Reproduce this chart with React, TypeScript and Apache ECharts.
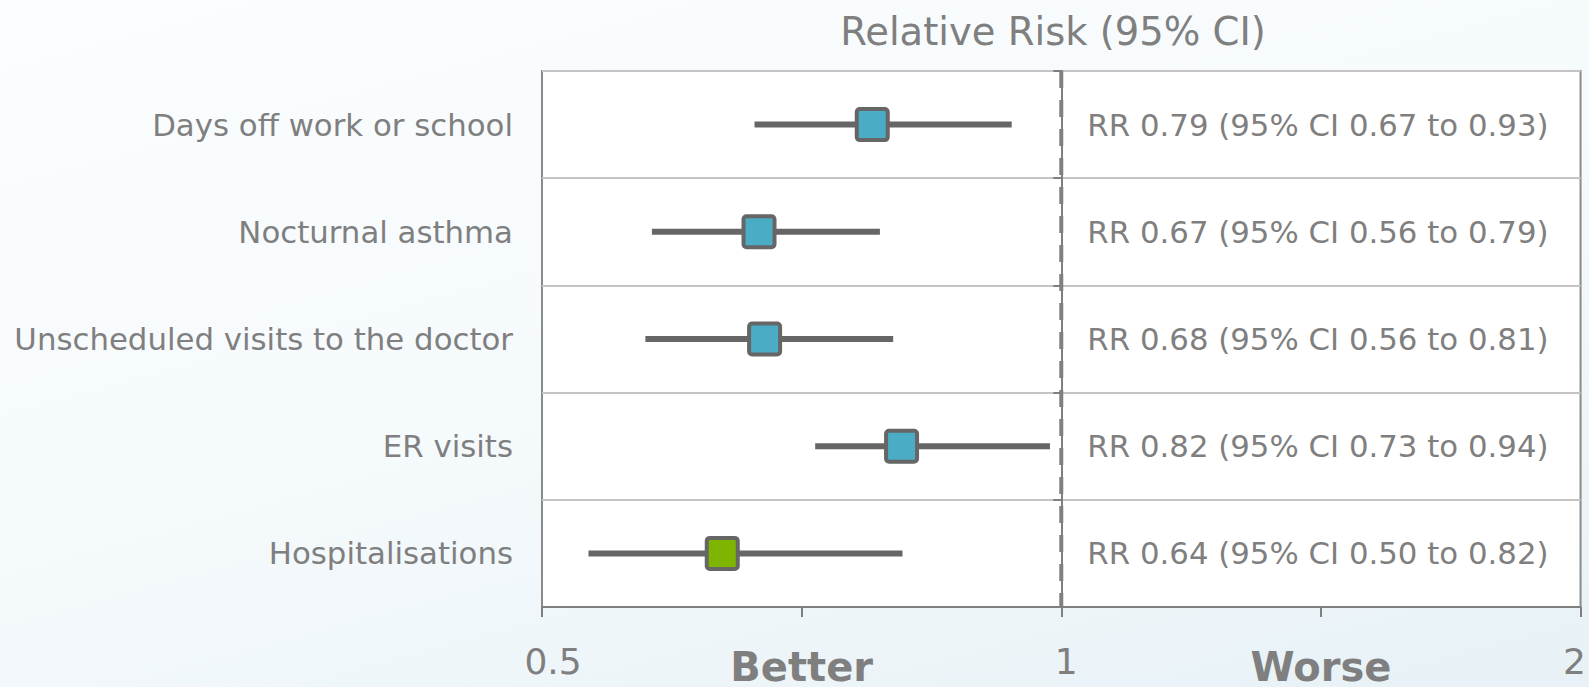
import React, { useEffect, useRef } from "react";
import * as echarts from "echarts";

// ---- data ----
const categories = [
  "Days off work or school",
  "Nocturnal asthma",
  "Unscheduled visits to the doctor",
  "ER visits",
  "Hospitalisations",
];
const riskLow = [0.664, 0.579, 0.574, 0.72, 0.532];
const riskPoint = [0.777, 0.668, 0.673, 0.808, 0.636];
const riskHigh = [0.936, 0.785, 0.799, 0.985, 0.809];
const resultLabels = [
  "RR 0.79 (95% CI 0.67 to 0.93)",
  "RR 0.67 (95% CI 0.56 to 0.79)",
  "RR 0.68 (95% CI 0.56 to 0.81)",
  "RR 0.82 (95% CI 0.73 to 0.94)",
  "RR 0.64 (95% CI 0.50 to 0.82)",
];
const highlighted = [false, false, false, false, true];
const tickLabels = ["0.5", "Better", "1", "Worse", "2"];
const axisMin = 0.5;
const axisMax = 2;
const noEffectValue = 1;
const titleText = "Relative Risk (95% CI)";

// ---- styles ----
const FONT = "DejaVu Sans";
const GREY = "#7f7f7f";
const LINE_GREY = "#666666";
const BLUE = "#4bacc6";
const GREEN = "#7db500";

export default function App() {
  const ref = useRef<HTMLDivElement>(null);

  useEffect(() => {
    document.body.style.margin = "0";
    if (!ref.current) return;
    const chart = echarts.init(ref.current, undefined, { renderer: "svg" });

    const logMin = Math.log2(axisMin);
    const logMax = Math.log2(axisMax);
    const step = (logMax - logMin) / (tickLabels.length - 1);

    const option: any = {
      animation: false,
      backgroundColor: "transparent",
      textStyle: { fontFamily: FONT },
      title: {
        text: titleText,
        left: 1053,
        top: 12,
        padding: 0,
        textAlign: "center",
        textStyle: {
          fontFamily: FONT,
          fontSize: 38.5,
          fontWeight: "normal",
          color: GREY,
        },
      },
      grid: {
        left: 542,
        top: 71,
        width: 1040,
        height: 542,
        show: true,
        backgroundColor: "#ffffff",
        borderColor: "#8a8a8a",
        borderWidth: 2,
      },
      xAxis: [
        {
          type: "log",
          logBase: 2,
          min: axisMin,
          max: axisMax,
          position: "bottom",
          axisLine: { show: true, lineStyle: { color: GREY, width: 2 } },
          axisTick: { show: false },
          axisLabel: { show: false },
          splitLine: { show: false },
        },
        {
          type: "value",
          min: logMin,
          max: logMax,
          interval: step,
          position: "bottom",
          axisLine: { show: false },
          axisTick: {
            show: true,
            length: 10,
            lineStyle: { color: GREY, width: 2 },
          },
          splitLine: { show: false },
          axisLabel: {
            show: true,
            margin: 36,
            showMinLabel: true,
            showMaxLabel: true,
            hideOverlap: false,
            formatter: (v: number) => {
              const i = Math.round((v - logMin) / step);
              const txt = tickLabels[i] ?? "";
              const key = i % 2 === 1 ? "b" : "t" + i;
              return "{" + key + "|" + txt + "}";
            },
            rich: {
              t0: { fontFamily: FONT, fontSize: 36, color: GREY, padding: [0, 0, 0, 22] },
              t2: { fontFamily: FONT, fontSize: 36, color: GREY, padding: [0, 0, 0, 10] },
              t4: { fontFamily: FONT, fontSize: 36, color: GREY, padding: [0, 12, 0, 0] },
              b: {
                fontFamily: FONT,
                fontSize: 40,
                fontWeight: "bold",
                color: GREY,
                padding: [4, 0, 0, 0],
              },
            },
          },
        },
      ],
      yAxis: [
        {
          type: "category",
          data: categories,
          inverse: true,
          axisLine: { show: true, lineStyle: { color: GREY, width: 2 } },
          axisTick: { show: true, length: 8, lineStyle: { color: GREY, width: 2 } },
          axisLabel: { fontFamily: FONT, fontSize: 30.8, color: GREY, margin: 29 },
          splitLine: {
            show: true,
            lineStyle: { color: "#c4c4c4", width: 2 },
          },
        },
        {
          type: "category",
          data: resultLabels,
          inverse: true,
          position: "right",
          axisLine: { show: false },
          axisTick: { show: false },
          splitLine: { show: false },
          axisLabel: {
            inside: true,
            margin: 32,
            fontFamily: FONT,
            fontSize: 30.8,
            color: GREY,
          },
        },
      ],
      series: [
        {
          type: "custom",
          xAxisIndex: 0,
          yAxisIndex: 0,
          encode: { x: 0 },
          data: [[noEffectValue]],
          z: 1,
          renderItem: (params: any, api: any) => {
            const x = api.coord([api.value(0), 0])[0];
            const cs = params.coordSys;
            return {
              type: "line",
              shape: { x1: x, y1: cs.y, x2: x, y2: cs.y + cs.height },
              style: { stroke: "#808080", lineWidth: 4, lineDash: [17, 12] },
            };
          },
        },
        {
          type: "custom",
          xAxisIndex: 0,
          yAxisIndex: 0,
          z: 3,
          encode: { x: [0, 1, 2], y: 3 },
          data: categories.map((_, i) => [riskLow[i], riskPoint[i], riskHigh[i], i]),
          renderItem: (params: any, api: any) => {
            const idx = api.value(3);
            const lo = api.coord([api.value(0), idx]);
            const mid = api.coord([api.value(1), idx]);
            const hi = api.coord([api.value(2), idx]);
            const size = 31;
            return {
              type: "group",
              children: [
                {
                  type: "line",
                  shape: { x1: lo[0], y1: lo[1], x2: hi[0], y2: hi[1] },
                  style: { stroke: LINE_GREY, lineWidth: 6 },
                },
                {
                  type: "rect",
                  shape: {
                    x: mid[0] - size / 2,
                    y: mid[1] - size / 2,
                    width: size,
                    height: size,
                    r: 3,
                  },
                  style: {
                    fill: highlighted[params.dataIndex] ? GREEN : BLUE,
                    stroke: LINE_GREY,
                    lineWidth: 4,
                  },
                },
              ],
            };
          },
        },
      ],
    };

    chart.setOption(option);
    return () => chart.dispose();
  }, []);

  return (
    <div
      style={{
        width: 1589,
        height: 687,
        background:
          "linear-gradient(165deg, #fbfdfe 0%, #f5fafc 50%, #e7f1f6 100%)",
      }}
    >
      <div ref={ref} style={{ width: 1589, height: 687 }} />
    </div>
  );
}
